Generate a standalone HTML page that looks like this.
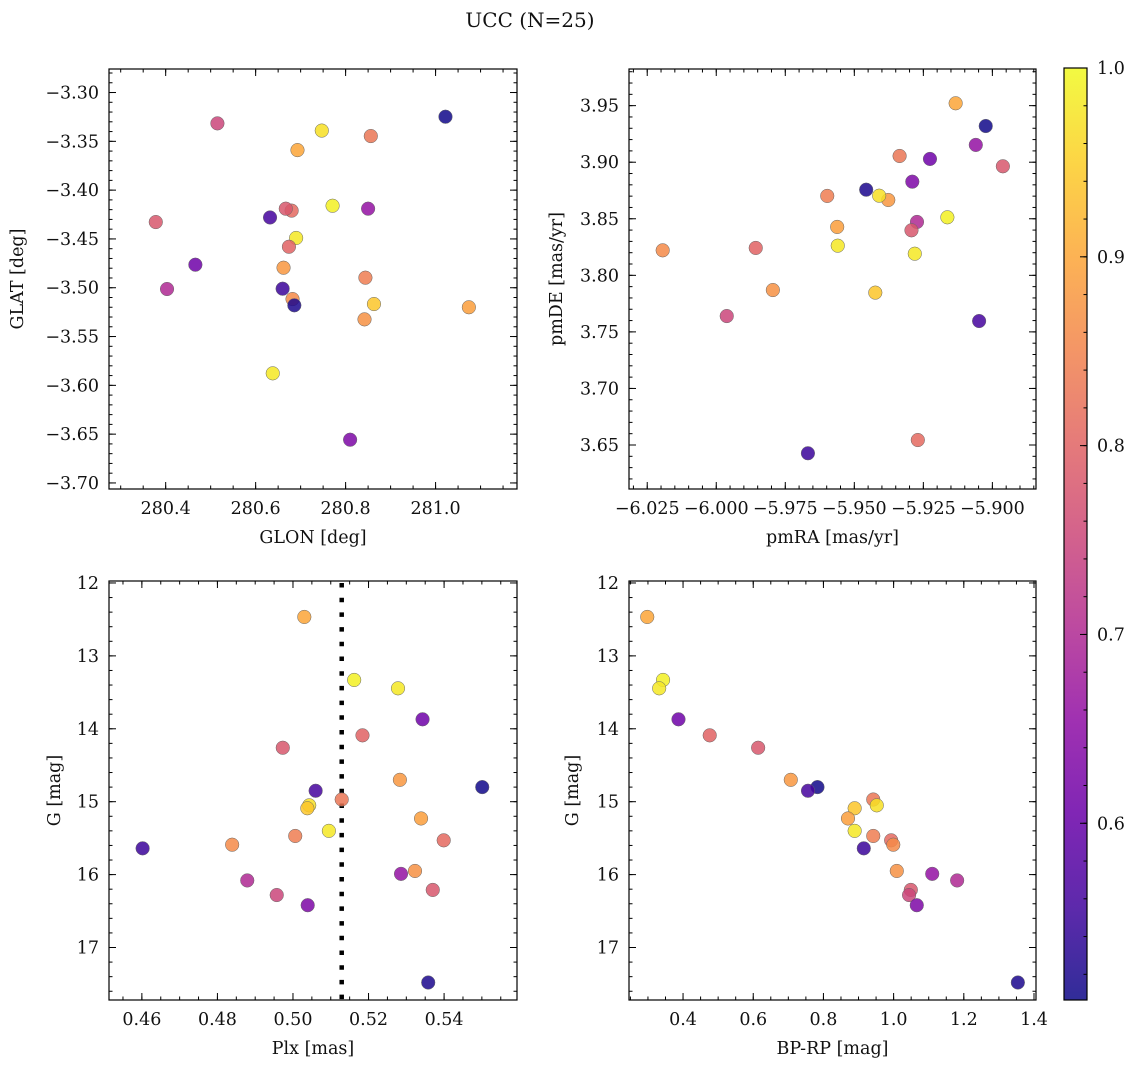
<!DOCTYPE html>
<html><head><meta charset="utf-8"><style>
body{margin:0;background:#fff;}
svg text{font-family:"DejaVu Serif","Liberation Serif",serif;fill:#111;}
</style></head><body>
<svg id="fig" width="1136" height="1068" viewBox="0 0 1136 1068" xmlns="http://www.w3.org/2000/svg">
<defs>
<linearGradient id="cmap" x1="0" y1="1" x2="0" y2="0"></linearGradient>
</defs>
<text x="530" y="27" text-anchor="middle" font-size="20">UCC (N=25)</text>
</svg>
<script>
// ---- data (one entry per star) ----
const glon = [280.693,280.771,280.690,280.466,280.674,280.378,280.662,281.022,280.632,280.856,280.747,280.863,281.074,280.638,280.844,280.680,280.682,280.660,280.842,280.850,280.403,280.667,280.515,280.810,280.686];
const glat = [-3.359,-3.416,-3.449,-3.4764,-3.458,-3.4327,-3.4795,-3.3248,-3.428,-3.3446,-3.339,-3.5167,-3.520,-3.5877,-3.4897,-3.421,-3.5116,-3.501,-3.5324,-3.419,-3.5013,-3.419,-3.3316,-3.6557,-3.518];
const pmra = [-5.9133,-5.9163,-5.956,-5.9226,-5.9857,-5.8962,-5.9377,-5.9024,-5.9048,-5.9336,-5.941,-5.9424,-5.9562,-5.9281,-5.9598,-5.927,-6.0194,-5.9668,-5.9795,-5.906,-5.9273,-5.9293,-5.9962,-5.929,-5.9457];
const pmde = [3.9521,3.8513,3.8262,3.9029,3.8242,3.8964,3.8666,3.932,3.7596,3.9055,3.8704,3.7847,3.8428,3.8191,3.8702,3.6544,3.8221,3.6427,3.787,3.9153,3.8472,3.8398,3.764,3.8828,3.8757];
const plx = [0.5030,0.5162,0.5278,0.5343,0.5184,0.4973,0.5283,0.5501,0.5060,0.5129,0.5043,0.5038,0.5339,0.5095,0.5006,0.5399,0.4839,0.4602,0.5323,0.5286,0.4879,0.5370,0.4957,0.5039,0.5358];
const gmag = [12.466,13.33,13.445,13.87,14.09,14.26,14.70,14.80,14.85,14.97,15.05,15.09,15.23,15.40,15.47,15.53,15.59,15.64,15.95,15.99,16.08,16.21,16.28,16.42,17.48];
const bprp = [0.298,0.343,0.332,0.387,0.476,0.614,0.707,0.783,0.756,0.942,0.952,0.889,0.870,0.889,0.942,0.993,0.999,0.915,1.009,1.110,1.181,1.049,1.044,1.066,1.354];
const prob = [0.90,0.99,0.98,0.61,0.80,0.78,0.88,0.51,0.56,0.83,0.97,0.94,0.89,0.98,0.84,0.81,0.86,0.55,0.87,0.66,0.70,0.78,0.75,0.63,0.52];
const plxLine = 0.5129;
const cbarTicks = [0.6,0.7,0.8,0.9,1.0];
const cbarMin = 0.5064, cbarMax = 1.0;

const NS = "http://www.w3.org/2000/svg";
const svg = document.getElementById('fig');
function mk(tag, attrs, parent){const e=document.createElementNS(NS,tag);for(const k in attrs)e.setAttribute(k,attrs[k]);(parent||svg).appendChild(e);return e;}

const plasma = ["#0d0887","#41049d","#6a00a8","#8f0da4","#b12a90","#cc4778","#e16462","#f2844b","#fca636","#fcce25","#f0f921"];
function hex2rgb(h){return [parseInt(h.slice(1,3),16),parseInt(h.slice(3,5),16),parseInt(h.slice(5,7),16)];}
function cmap(v){
  let t=(v-cbarMin)/(cbarMax-cbarMin); t=Math.max(0,Math.min(1,t));
  const f=t*10, i=Math.min(9,Math.floor(f)), r=f-i;
  const a=hex2rgb(plasma[i]), b=hex2rgb(plasma[i+1]);
  return "rgb("+a.map((c,k)=>Math.round(c+(b[k]-c)*r)).join(",")+")";
}
const grad=document.getElementById('cmap');
plasma.forEach((c,i)=>mk('stop',{offset:(i*10)+'%','stop-color':c},grad));

function fmt(v,d){const s=v.toFixed(d);return v<0?'\u2212'+s.slice(1):s;}
const FS=17.5;

function panel(o){
  const g=mk('g',{});
  
  
  const sx=v=>o.x0+(v-o.xd[0])/(o.xd[1]-o.xd[0])*(o.x1-o.x0);
  const sy=o.yinv? (v=>o.y0+(v-o.yd[0])/(o.yd[1]-o.yd[0])*(o.y1-o.y0)) : (v=>o.y1-(v-o.yd[0])/(o.yd[1]-o.yd[0])*(o.y1-o.y0));
  const tg=mk('g',{stroke:'#000','stroke-width':1},g);
  const eps=1e-9;
  function ticksFor(lo,hi,step){const a=[];let s=Math.ceil((lo-eps)/step);for(let v=s*step;v<=hi+eps;v=(++s)*step)a.push(v);return a;}
  ticksFor(o.xd[0],o.xd[1],o.xminor).forEach(v=>{const x=sx(v);mk('line',{x1:x,x2:x,y1:o.y1,y2:o.y1-3.5},tg);mk('line',{x1:x,x2:x,y1:o.y0,y2:o.y0+3.5},tg);});
  ticksFor(o.yd[0],o.yd[1],o.yminor).forEach(v=>{const y=sy(v);mk('line',{x1:o.x0,x2:o.x0+3.5,y1:y,y2:y},tg);mk('line',{x1:o.x1,x2:o.x1-3.5,y1:y,y2:y},tg);});
  o.xticks.forEach(v=>{const x=sx(v);mk('line',{x1:x,x2:x,y1:o.y1,y2:o.y1-7},tg);mk('line',{x1:x,x2:x,y1:o.y0,y2:o.y0+7},tg);
    const t=mk('text',{x:x,y:o.y1+25,'text-anchor':'middle','font-size':FS},g);t.textContent=fmt(v,o.xdec);
    
    });
  o.yticks.forEach(v=>{const y=sy(v);mk('line',{x1:o.x0,x2:o.x0+7,y1:y,y2:y},tg);mk('line',{x1:o.x1,x2:o.x1-7,y1:y,y2:y},tg);
    const t=mk('text',{x:o.x0-10,y:y+6,'text-anchor':'end','font-size':FS},g);t.textContent=fmt(v,o.ydec);
    
    });
  if(o.vline!==undefined){const x=sx(o.vline);const l=mk('line',{x1:x,x2:x,y1:o.y0+2,y2:o.y1,stroke:'#000','stroke-width':4.5,'stroke-dasharray':'4.5 10.2'},g);
    
    }
  o.xs.forEach((xv,i)=>{const c=mk('circle',{cx:sx(xv),cy:sy(o.ys[i]),r:6.8,fill:cmap(prob[i]),'fill-opacity':0.85,stroke:'#666','stroke-width':0.5},g);
    
    });
  const f=mk('rect',{x:o.x0,y:o.y0,width:o.x1-o.x0,height:o.y1-o.y0,fill:'none',stroke:'#000','stroke-width':1.2},g);
  
  
  const xl=mk('text',{x:(o.x0+o.x1)/2,y:o.y1+54,'text-anchor':'middle','font-size':FS},g);xl.textContent=o.xlabel;
  
  
  const yx=o.ylx, yy=(o.y0+o.y1)/2;
  const yl=mk('text',{x:yx,y:yy,'text-anchor':'middle','font-size':FS,transform:'rotate(-90 '+yx+' '+yy+')'},g);yl.textContent=o.ylabel;
  
  
}

panel({name:'glon-glat-panel',x0:109,x1:517,y0:69,y1:489,xd:[280.274,281.181],yd:[-3.7062,-3.2759],
  xticks:[280.4,280.6,280.8,281.0],xdec:1,xminor:0.05,yticks:[-3.70,-3.65,-3.60,-3.55,-3.50,-3.45,-3.40,-3.35,-3.30],ydec:2,yminor:0.01,
  xs:glon,ys:glat,xlabel:'GLON [deg]',ylabel:'GLAT [deg]',ylx:23});
panel({name:'propermotion-panel',x0:629,x1:1036,y0:69,y1:489,xd:[-6.0316,-5.8842],yd:[3.6111,3.9824],
  xticks:[-6.025,-6.0,-5.975,-5.95,-5.925,-5.9],xdec:3,xminor:0.005,yticks:[3.65,3.70,3.75,3.80,3.85,3.90,3.95],ydec:2,yminor:0.01,
  xs:pmra,ys:pmde,xlabel:'pmRA [mas/yr]',ylabel:'pmDE [mas/yr]',ylx:562});
panel({name:'parallax-panel',x0:109,x1:517,y0:581,y1:1000,xd:[0.4513,0.5593],yd:[11.973,17.72],yinv:true,
  xticks:[0.46,0.48,0.50,0.52,0.54],xdec:2,xminor:0.005,yticks:[12,13,14,15,16,17],ydec:0,yminor:0.2,
  xs:plx,ys:gmag,xlabel:'Plx [mas]',ylabel:'G [mag]',ylx:60,vline:plxLine});
panel({name:'cmd-panel',x0:629,x1:1036,y0:581,y1:1000,xd:[0.246,1.4057],yd:[11.973,17.72],yinv:true,
  xticks:[0.4,0.6,0.8,1.0,1.2,1.4],xdec:1,xminor:0.05,yticks:[12,13,14,15,16,17],ydec:0,yminor:0.2,
  xs:bprp,ys:gmag,xlabel:'BP-RP [mag]',ylabel:'G [mag]',ylx:578});

const cb=mk('g',{});


const cbx0=1064,cbx1=1087,cby0=68,cby1=1000;
mk('rect',{x:cbx0,y:cby0,width:cbx1-cbx0,height:cby1-cby0,fill:'url(#cmap)','fill-opacity':0.85},cb);
const cy=v=>cby1-(v-cbarMin)/(cbarMax-cbarMin)*(cby1-cby0);
for(let k=26;k<=50;k++){const v=k*0.02;if(v<cbarMin)continue;const y=cy(v);mk('line',{x1:cbx1,x2:cbx1-3.5,y1:y,y2:y,stroke:'#000','stroke-width':1},cb);}
cbarTicks.forEach(v=>{const y=cy(v);mk('line',{x1:cbx1,x2:cbx1-7,y1:y,y2:y,stroke:'#000','stroke-width':1},cb);
  const t=mk('text',{x:cbx1+10,y:y+6,'font-size':FS},cb);t.textContent=v.toFixed(1);
  
  });
mk('rect',{x:cbx0,y:cby0,width:cbx1-cbx0,height:cby1-cby0,fill:'none',stroke:'#000','stroke-width':1.2},cb);
</script>
</body></html>
